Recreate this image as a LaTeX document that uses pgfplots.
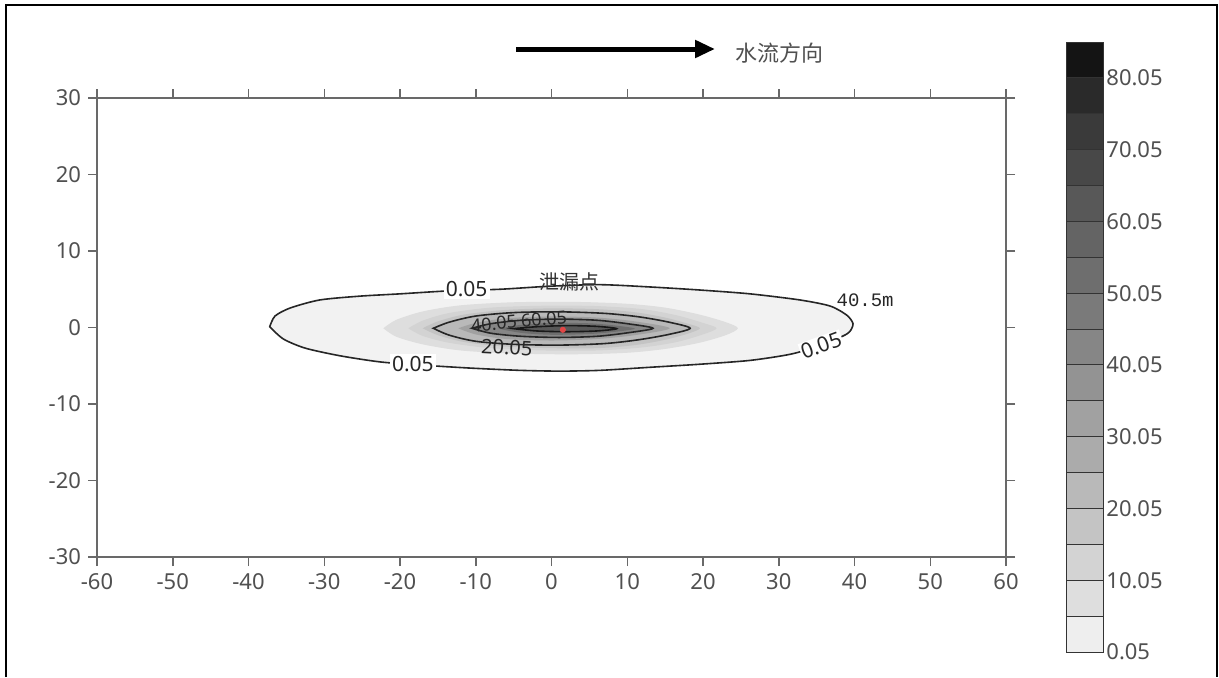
\documentclass[border=0pt]{standalone}
\usepackage{fontspec}
\setmainfont{Noto Sans}
\newfontfamily\cjk{Noto Sans CJK SC}
\newfontfamily\mono{Liberation Mono}
\usepackage{pgfplots}
\pgfplotsset{compat=1.18}
\usetikzlibrary{arrows.meta}
\definecolor{g1}{RGB}{238,238,238}
\definecolor{g2}{RGB}{222,222,222}
\definecolor{g3}{RGB}{211,211,211}
\definecolor{g4}{RGB}{196,196,196}
\definecolor{g5}{RGB}{185,185,185}
\definecolor{g6}{RGB}{171,171,171}
\definecolor{g7}{RGB}{161,161,161}
\definecolor{g8}{RGB}{147,147,147}
\definecolor{g9}{RGB}{134,134,134}
\definecolor{g10}{RGB}{122,122,122}
\definecolor{g11}{RGB}{110,110,110}
\definecolor{g12}{RGB}{100,100,100}
\definecolor{g13}{RGB}{88,88,88}
\definecolor{g14}{RGB}{72,72,72}
\definecolor{g15}{RGB}{58,58,58}
\definecolor{g16}{RGB}{42,42,42}
\definecolor{g17}{RGB}{20,20,20}
\definecolor{tickgray}{RGB}{80,80,80}
\definecolor{axgray}{RGB}{105,105,105}
\definecolor{dotred}{RGB}{225,70,70}
\definecolor{outerfill}{RGB}{242,242,242}
\begin{document}
\begin{tikzpicture}
\useasboundingbox (0,0) rectangle (609.5pt,338.5pt);
\fill[white] (0,0) rectangle (609.5pt,338.5pt);
\draw[black, line width=1pt] (3pt,0) -- (3pt,336pt) -- (608.5pt,336pt) -- (608.5pt,0);

\begin{axis}[
  at={(48.5pt,60pt)}, anchor=south west,
  scale only axis, width=454.5pt, height=229.5pt,
  xmin=-60, xmax=60, ymin=-30, ymax=30,
  xtick={-60,-50,-40,-30,-20,-10,0,10,20,30,40,50,60},
  xticklabels={-60,-50,-40,-30,-20,-10,0,10,20,30,40,50,60},
  ytick={-30,-20,-10,0,10,20,30},
  yticklabels={-30,-20,-10,0,10,20,30},
  tick align=outside, major tick length=4.5pt,
  axis line style={axgray, line width=0.75pt},
  tick style={axgray, line width=0.75pt},
  ticklabel style={font=\fontsize{11}{13}\selectfont, text=tickgray},
  clip=false, axis on top,
]
% level 0.05
\addplot[fill=outerfill, draw=black!85, line width=0.8pt, smooth, tension=0.45] coordinates {
(-37.2,0.1) (-36.5,1.5) (-34.5,2.55) (-30.6,3.6) (-25.3,4.1) (-20.0,4.4) (-13.4,4.8)
(-6.8,5.0) (-0.2,5.4) (6.4,5.6) (13.0,5.3) (19.6,4.9) (26.2,4.4) (32.8,3.6)
(36.8,2.8) (39.0,1.6) (39.8,0.5) (39.4,-0.5) (38.5,-1.1) (35.4,-2.4) (31.5,-3.5)
(26.2,-4.3) (19.6,-4.8) (13.0,-5.2) (6.4,-5.6) (1.1,-5.7) (-4.2,-5.6) (-10.8,-5.3)
(-17.4,-4.9) (-22.6,-4.5) (-27.9,-3.7) (-32.5,-2.7) (-35.4,-1.5) (-37.2,0.1)} -- cycle;
% level 5.05
\addplot[fill=g2, draw=none, smooth, tension=0.5] coordinates {
(-22.2,-0.1) (-20.5,1.0) (-17,2.1) (-12,2.9) (-5,3.3) (3,3.35) (10,3.1) (15,2.6)
(19.5,1.7) (23,0.7) (24.6,-0.1) (23,-1.0) (19.5,-2.0) (15,-2.8) (10,-3.3) (3,-3.5)
(-5,-3.4) (-12,-3.0) (-17,-2.2) (-20.5,-1.2) (-22.2,-0.1)} -- cycle;
% level 10.05
\addplot[fill=g3, draw=none, smooth, tension=0.5] coordinates {
(-18.9,-0.1) (-17,0.9) (-13.5,1.9) (-8,2.6) (-1,2.85) (6,2.8) (12,2.4) (16.5,1.6)
(20,0.6) (21.8,-0.1) (20,-0.9) (16.5,-1.9) (12,-2.6) (6,-3.0) (-1,-3.0) (-8,-2.7)
(-13.5,-2.0) (-17,-1.1) (-18.9,-0.1)} -- cycle;
% level 15.05
\addplot[fill=g4, draw=none, smooth, tension=0.5] coordinates {
(-17,-0.1) (-15,0.8) (-11.5,1.7) (-6,2.3) (0,2.5) (6,2.4) (11,2.0) (15,1.3) (18,0.5)
(19.6,-0.1) (18,-0.8) (15,-1.6) (11,-2.3) (6,-2.7) (0,-2.7) (-6,-2.5) (-11.5,-1.9)
(-15,-1.0) (-17,-0.1)} -- cycle;
% level 20.05
\addplot[fill=g5, draw=black!85, line width=0.8pt, smooth, tension=0.5] coordinates {
(-15.6,-0.1) (-13.5,0.7) (-10,1.5) (-5,1.95) (1,2.05) (7,1.85) (11.5,1.4) (15.5,0.7)
(18.3,-0.1) (15.5,-0.9) (11.5,-1.6) (7,-2.1) (1,-2.3) (-5,-2.2) (-10,-1.8) (-13.5,-1.0)
(-15.6,-0.1)} -- cycle;
% level 30.05
\addplot[fill=g7, draw=none, smooth, tension=0.5] coordinates {
(-12.3,-0.1) (-10,0.6) (-6,1.2) (0,1.45) (6,1.3) (11,0.8) (15.6,-0.1) (11,-1.0)
(6,-1.5) (0,-1.7) (-6,-1.5) (-10,-0.9) (-12.3,-0.1)} -- cycle;
% level 40.05
\addplot[fill=g9, draw=black!85, line width=0.8pt, smooth, tension=0.5] coordinates {
(-10.5,-0.1) (-8,0.5) (-4,0.95) (1,1.1) (6,0.95) (10,0.5) (13.4,-0.1) (10,-0.7)
(6,-1.15) (1,-1.3) (-4,-1.15) (-8,-0.75) (-10.5,-0.1)} -- cycle;
% level 50.05
\addplot[fill=g11, draw=none, smooth, tension=0.5] coordinates {
(-7,-0.15) (-4,0.35) (0,0.6) (5,0.55) (8.5,0.25) (11,-0.15) (8.5,-0.55) (5,-0.85)
(0,-0.95) (-4,-0.7) (-7,-0.15)} -- cycle;
% level 60.05
\addplot[fill=g13, draw=black!90, line width=0.8pt, smooth, tension=0.5] coordinates {
(-5,-0.15) (-2,0.1) (2,0.25) (6,0.15) (8.6,-0.15) (6,-0.45) (2,-0.55) (-2,-0.45)
(-5,-0.15)} -- cycle;
% leak point
\addplot[only marks, mark=*, mark size=1.3pt, dotred] coordinates {(1.5,-0.3)};

\node[font=\fontsize{10.5}{12}\selectfont, text=black!85, fill=white, inner sep=1pt] at (axis cs:-11.2,5.0) {0.05};
\node[font=\fontsize{10.5}{12}\selectfont, text=black!85, fill=white, inner sep=1pt] at (axis cs:-18.3,-4.8) {0.05};
\node[font=\fontsize{10.5}{12}\selectfont, text=black!85, fill=white, inner sep=0.5pt, rotate=20] at (axis cs:35.6,-2.3) {0.05};
\node[font=\cjk\fontsize{10}{12}\selectfont, text=black!80] at (axis cs:2.4,5.9) {泄漏点};
\node[font=\mono\fontsize{9.5}{11}\selectfont, text=black!85] at (axis cs:41.4,3.6) {40.5m};
\node[font=\fontsize{10}{12}\selectfont, text=black!85, rotate=-3] at (axis cs:-5.9,-2.6) {20.05};
\node[font=\fontsize{9}{11}\selectfont, text=black!85, rotate=5, inner sep=0pt] at (axis cs:-7.6,0.5) {40.05};
\node[font=\fontsize{9}{11}\selectfont, text=black!85, rotate=5, inner sep=0pt] at (axis cs:-1.0,1.1) {60.05};
\end{axis}

% colour bar
\begin{axis}[
  at={(533pt,12.5pt)}, anchor=south west,
  scale only axis, width=18.5pt, height=305pt,
  xmin=0, xmax=1, ymin=0.05, ymax=85.05,
  axis line style={draw=none},
  xtick=\empty,
  ytick={0.05,10.05,20.05,30.05,40.05,50.05,60.05,70.05,80.05},
  yticklabels={0.05,10.05,20.05,30.05,40.05,50.05,60.05,70.05,80.05},
  yticklabel pos=right, ytick pos=right, major tick length=0pt,
  ticklabel style={font=\fontsize{11}{13}\selectfont, text=tickgray},
  yticklabel style={inner sep=1.5pt},
  clip=false,
]
\addplot[fill=g1, draw=black!80, line width=0.5pt] coordinates {(0,0.05) (1,0.05) (1,5.05) (0,5.05)} -- cycle;
\addplot[fill=g2, draw=black!80, line width=0.5pt] coordinates {(0,5.05) (1,5.05) (1,10.05) (0,10.05)} -- cycle;
\addplot[fill=g3, draw=black!80, line width=0.5pt] coordinates {(0,10.05) (1,10.05) (1,15.05) (0,15.05)} -- cycle;
\addplot[fill=g4, draw=black!80, line width=0.5pt] coordinates {(0,15.05) (1,15.05) (1,20.05) (0,20.05)} -- cycle;
\addplot[fill=g5, draw=black!80, line width=0.5pt] coordinates {(0,20.05) (1,20.05) (1,25.05) (0,25.05)} -- cycle;
\addplot[fill=g6, draw=black!80, line width=0.5pt] coordinates {(0,25.05) (1,25.05) (1,30.05) (0,30.05)} -- cycle;
\addplot[fill=g7, draw=black!80, line width=0.5pt] coordinates {(0,30.05) (1,30.05) (1,35.05) (0,35.05)} -- cycle;
\addplot[fill=g8, draw=black!80, line width=0.5pt] coordinates {(0,35.05) (1,35.05) (1,40.05) (0,40.05)} -- cycle;
\addplot[fill=g9, draw=black!80, line width=0.5pt] coordinates {(0,40.05) (1,40.05) (1,45.05) (0,45.05)} -- cycle;
\addplot[fill=g10, draw=black!80, line width=0.5pt] coordinates {(0,45.05) (1,45.05) (1,50.05) (0,50.05)} -- cycle;
\addplot[fill=g11, draw=black!80, line width=0.5pt] coordinates {(0,50.05) (1,50.05) (1,55.05) (0,55.05)} -- cycle;
\addplot[fill=g12, draw=black!80, line width=0.5pt] coordinates {(0,55.05) (1,55.05) (1,60.05) (0,60.05)} -- cycle;
\addplot[fill=g13, draw=black!80, line width=0.5pt] coordinates {(0,60.05) (1,60.05) (1,65.05) (0,65.05)} -- cycle;
\addplot[fill=g14, draw=black!80, line width=0.5pt] coordinates {(0,65.05) (1,65.05) (1,70.05) (0,70.05)} -- cycle;
\addplot[fill=g15, draw=black!80, line width=0.5pt] coordinates {(0,70.05) (1,70.05) (1,75.05) (0,75.05)} -- cycle;
\addplot[fill=g16, draw=black!80, line width=0.5pt] coordinates {(0,75.05) (1,75.05) (1,80.05) (0,80.05)} -- cycle;
\addplot[fill=g17, draw=black!80, line width=0.5pt] coordinates {(0,80.05) (1,80.05) (1,85.05) (0,85.05)} -- cycle;
\end{axis}

\draw[line width=2.5pt, -{Triangle[length=10pt,width=8.5pt]}] (258pt,314pt) -- (357.5pt,314pt);
\node[font=\cjk\fontsize{11}{13}\selectfont, text=tickgray] at (389.5pt,312pt) {水流方向};
\end{tikzpicture}
\end{document}
